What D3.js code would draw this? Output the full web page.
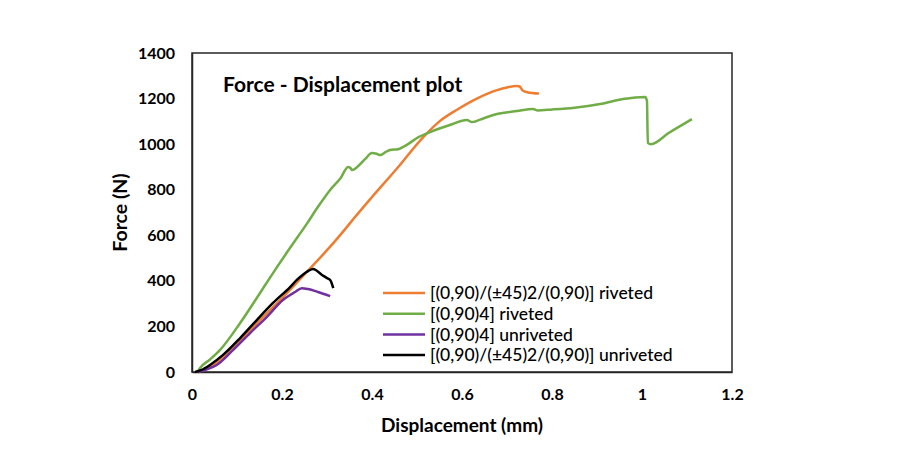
<!DOCTYPE html>
<meta charset="utf-8">
<script src="https://d3js.org/d3.v7.min.js"></script>
<style>
  body { margin: 0; background: #fff; }
  text { font-family: Lato, "Open Sans", sans-serif; }
</style>
<body>
<div id="my_dataviz"></div>
<script>
// orange: [(0,90)/(±45)2/(0,90)] riveted
var orangeX = [0.01, 0.03, 0.047, 0.084, 0.122, 0.158, 0.196, 0.224, 0.255, 0.291, 0.307, 0.344, 0.358, 0.40, 0.455, 0.514, 0.55, 0.588, 0.633, 0.678, 0.70, 0.722, 0.728, 0.735, 0.745, 0.771];
var orangeY = [0, 12, 31, 96, 171, 241, 316, 373, 439, 515, 550, 636, 670, 768, 892, 1031, 1100, 1150, 1200, 1237, 1249, 1255, 1253, 1235, 1228, 1222];

// green: [(0,90)4] riveted
var greenX = [0.012, 0.018, 0.04, 0.062, 0.107, 0.144, 0.18, 0.218, 0.255, 0.28, 0.307, 0.33, 0.347, 0.352, 0.356, 0.37, 0.385, 0.40, 0.41, 0.418, 0.43, 0.44, 0.458, 0.48, 0.50, 0.529, 0.573, 0.611, 0.622, 0.65, 0.678, 0.722, 0.758, 0.767, 0.80, 0.85, 0.907, 0.958, 1.007, 1.011, 1.013, 1.02, 1.06, 1.111];
var greenY = [0, 18, 55, 96, 215, 325, 434, 545, 650, 725, 799, 850, 900, 895, 886, 905, 935, 961, 958, 952, 965, 974, 978, 1000, 1027, 1053, 1084, 1106, 1097, 1115, 1132, 1145, 1154, 1148, 1152, 1160, 1176, 1198, 1207, 1190, 1005, 1000, 1050, 1110];

// purple: [(0,90)4] unriveted
var purpleX = [0.013, 0.03, 0.055, 0.091, 0.129, 0.166, 0.202, 0.229, 0.244, 0.258, 0.28, 0.307];
var purpleY = [0, 10, 31, 96, 171, 241, 316, 351, 368, 364, 351, 333];

// black: [(0,90)/(±45)2/(0,90)] unriveted
var blackX = [0.007, 0.02, 0.04, 0.069, 0.107, 0.144, 0.18, 0.218, 0.233, 0.258, 0.269, 0.289, 0.30, 0.307, 0.314];
var blackY = [0, 8, 31, 75, 149, 228, 303, 373, 404, 443, 452, 426, 412, 404, 368];

var seriesNames = ["[(0,90)/(±45)2/(0,90)] riveted", "[(0,90)4] riveted", "[(0,90)4] unriveted", "[(0,90)/(±45)2/(0,90)] unriveted"];
var seriesColors = ["#ED7D31", "#70AD47", "#7030A0", "#000000"];
var xTicks = [0, 0.2, 0.4, 0.6, 0.8, 1, 1.2];
var yTicks = [0, 200, 400, 600, 800, 1000, 1200, 1400];

var series = [
  {name: seriesNames[0], color: seriesColors[0], values: d3.zip(orangeX, orangeY)},
  {name: seriesNames[1], color: seriesColors[1], values: d3.zip(greenX, greenY)},
  {name: seriesNames[2], color: seriesColors[2], values: d3.zip(purpleX, purpleY)},
  {name: seriesNames[3], color: seriesColors[3], values: d3.zip(blackX, blackY)}
];

var margin = {top: 53, right: 166, bottom: 77, left: 192},
    width = 898 - margin.left - margin.right,
    height = 449 - margin.top - margin.bottom;

var svg = d3.select("#my_dataviz")
  .append("svg")
    .attr("width", 898)
    .attr("height", 449)
  .append("g")
    .attr("transform", "translate(" + margin.left + "," + margin.top + ")");

var x = d3.scaleLinear().domain([0, 1.2]).range([0, width]);
var y = d3.scaleLinear().domain([0, 1400]).range([height, 0]);

// plot area border
svg.append("rect")
  .attr("width", width)
  .attr("height", height)
  .attr("fill", "none")
  .attr("stroke", "#262626")
  .attr("stroke-width", 1.5);

var xAxis = svg.append("g")
  .attr("transform", "translate(0," + height + ")")
  .call(d3.axisBottom(x).tickValues(xTicks).tickSize(0).tickPadding(17)
    .tickFormat(function(d) { return d3.format("~g")(d); }));
var yAxis = svg.append("g")
  .call(d3.axisLeft(y).tickValues(yTicks).tickSize(0).tickPadding(17)
    .tickFormat(d3.format("d")));

[xAxis, yAxis].forEach(function(a) {
  a.select(".domain").attr("stroke", "#262626").attr("stroke-width", 1.5);
  a.selectAll("text")
    .style("font-family", "Lato, sans-serif")
    .style("font-size", "16px")
    .style("font-weight", "bold")
    .attr("fill", "#000");
});

var line = d3.line()
  .curve(d3.curveMonotoneX)
  .x(function(d) { return x(d[0]); })
  .y(function(d) { return y(d[1]); });

series.forEach(function(s) {
  svg.append("path")
    .datum(s.values)
    .attr("fill", "none")
    .attr("stroke", s.color)
    .attr("stroke-width", 2.5)
    .attr("stroke-linejoin", "round")
    .attr("d", line);
});

svg.append("text")
  .attr("x", 31)
  .attr("y", 39)
  .style("font-size", "21px")
  .style("font-weight", "bold")
  .text("Force - Displacement plot");

svg.append("text")
  .attr("x", width / 2)
  .attr("y", height + 60)
  .attr("text-anchor", "middle")
  .style("font-size", "19px")
  .style("font-weight", "bold")
  .text("Displacement (mm)");

svg.append("text")
  .attr("transform", "translate(-65," + (height / 2) + ") rotate(-90)")
  .attr("text-anchor", "middle")
  .style("font-size", "19.5px")
  .style("font-weight", "bold")
  .text("Force (N)");

var legend = svg.append("g")
  .attr("transform", "translate(191,240)");

series.forEach(function(s, i) {
  var row = legend.append("g").attr("transform", "translate(0," + (i * 20.7) + ")");
  row.append("line")
    .attr("x1", 0).attr("x2", 42)
    .attr("stroke", s.color)
    .attr("stroke-width", 2.5);
  row.append("text")
    .attr("x", 47)
    .attr("dy", "0.35em")
    .style("font-size", "17.5px")
    .style("font-weight", "500")
    .text(s.name);
});
</script>
</body>
